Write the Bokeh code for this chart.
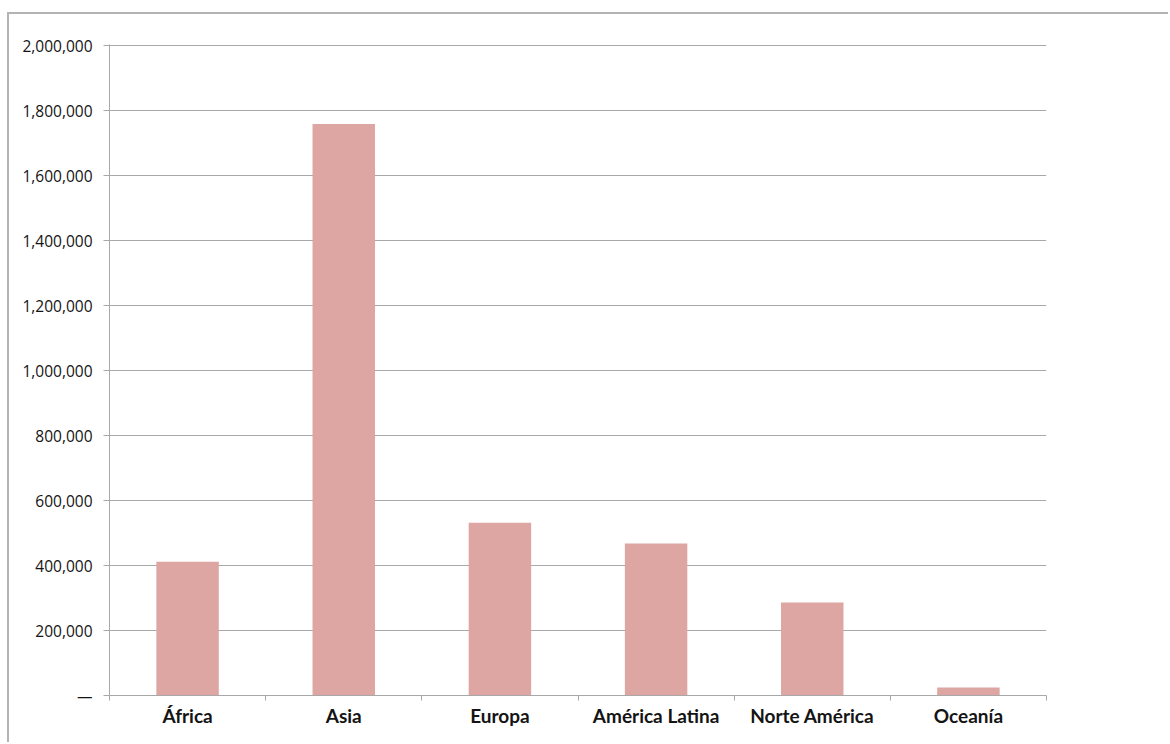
from bokeh.plotting import figure
from bokeh.models import Range1d, FixedTicker, NumeralTickFormatter
from bokeh.embed import file_html
from bokeh.resources import INLINE

# Population by region
regions = ["África", "Asia", "Europa", "América Latina", "Norte América", "Oceanía"]
population = [412000, 1759000, 532000, 468000, 286000, 25000]
y_ticks = [0, 200000, 400000, 600000, 800000, 1000000, 1200000, 1400000,
           1600000, 1800000, 2000000]

BAR = "#dea6a3"
GRID = "#a8a8a8"
TEXT = "#141414"

n = len(regions)
centers = [i + 0.5 for i in range(n)]
bounds = [float(i) for i in range(n + 1)]

# the top end sits a little above the last tick so its grid line is drawn in full
p = figure(width=1161, height=730, output_backend="svg", toolbar_location=None,
           x_range=Range1d(0, n), y_range=Range1d(0, 2004000),
           min_border_left=100, min_border_top=30, min_border_right=124,
           min_border_bottom=49)
p.margin = (12, 0, 0, 7)
p.styles = {"border-top": "2px solid #b4b4b4", "border-left": "2px solid #b4b4b4"}

p.vbar(x=centers, top=population, width=0.4, fill_color=BAR, line_color=None)

p.outline_line_color = None
p.background_fill_color = "white"
p.border_fill_color = "white"

# x axis: labels at category centres, tick marks at the category boundaries
xa = p.xaxis[0]
xa.ticker = FixedTicker(ticks=centers, minor_ticks=bounds)
xa.major_label_overrides = {c: r for c, r in zip(centers, regions)}
xa.major_tick_line_color = None
xa.major_tick_out = 0
xa.major_tick_in = 0
xa.minor_tick_line_color = GRID
xa.minor_tick_out = 5
xa.minor_tick_in = 0
xa.axis_line_color = GRID
xa.major_label_standoff = 3
xa.major_label_text_font = "Lato"
xa.major_label_text_font_style = "bold"
xa.major_label_text_font_size = "19px"
xa.major_label_text_color = TEXT

ya = p.yaxis[0]
ya.ticker = FixedTicker(ticks=y_ticks)
ya.formatter = NumeralTickFormatter(format="0,0")
ya.major_label_overrides = {0: "—"}
ya.major_tick_line_color = GRID
ya.major_tick_out = 6
ya.major_tick_in = 0
ya.minor_tick_line_color = None
ya.axis_line_color = GRID
ya.major_label_standoff = 11
ya.major_label_text_font = "Open Sans"
ya.major_label_text_font_size = "15.5px"
ya.major_label_text_color = TEXT

p.xgrid.grid_line_color = None
p.ygrid.grid_line_color = GRID
p.ygrid.grid_line_width = 1.2

open("out.html", "w").write(file_html(p, INLINE))
